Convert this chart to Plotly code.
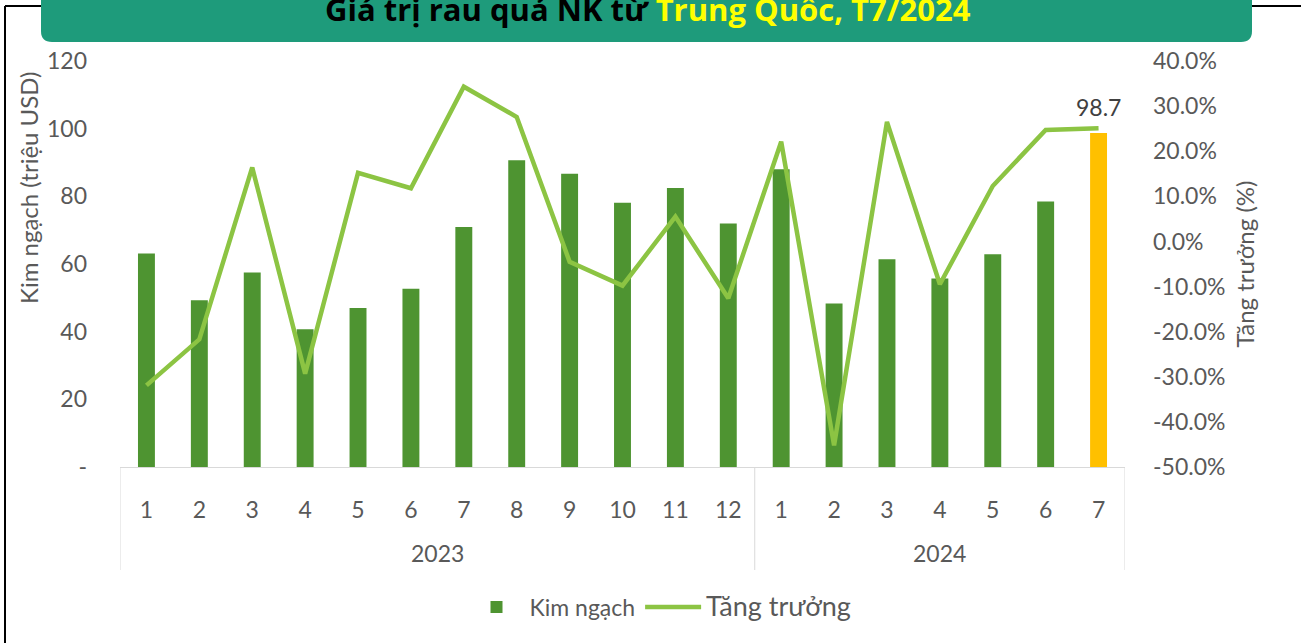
import plotly.graph_objects as go

years = ["2023"] * 12 + ["2024"] * 7
months = [str(m) for m in range(1, 13)] + [str(m) for m in range(1, 8)]
kim_ngach = [63.1, 49.3, 57.5, 40.7, 47.0, 52.7, 70.9, 90.7, 86.7, 78.1, 82.5, 72.0,
             88.0, 48.3, 61.4, 55.7, 62.9, 78.5, 98.7]
tang_truong = [-31.9, -21.7, 16.4, -29.3, 15.2, 11.8, 34.3, 27.6, -4.5, -9.8, 5.5, -12.6,
               22.1, -45.2, 26.5, -9.5, 12.3, 24.7, 25.1]
left_ticks = [0, 20, 40, 60, 80, 100, 120]
left_tick_text = ["-", "20", "40", "60", "80", "100", "120"]
right_ticks = list(range(-50, 41, 10))
right_tick_text = [f"{v:.1f}%" for v in right_ticks]

BAR = "#4E9431"
HIGHLIGHT = "#FFC000"
LINE = "#8CC443"
GRAY = "#595959"
FONT = "Lato"
FS = 23

W, H = 1301, 643
L, R, T, B = 120, 1125, 61, 467


def xp(px):
    return (px - L) / (R - L)


def yp(py):
    return (B - py) / (B - T)


idx = list(range(len(months)))
bar_colors = [BAR] * (len(kim_ngach) - 1) + [HIGHLIGHT]

fig = go.Figure()
fig.add_trace(go.Bar(
    x=idx, y=kim_ngach, name="Kim ngạch",
    marker=dict(color=bar_colors, line=dict(width=0)),
    yaxis="y",
))
fig.add_trace(go.Scatter(
    x=idx, y=tang_truong, name='<span style="font-size:27px">Tăng trưởng</span>',
    mode="lines", line=dict(color=LINE, width=4.5), yaxis="y2",
))

fig.update_layout(
    width=W, height=H,
    margin=dict(l=L, r=W - R, t=T, b=H - B),
    paper_bgcolor="white", plot_bgcolor="white",
    font=dict(family=FONT, color=GRAY, size=FS),
    bargap=0.68,
    showlegend=True,
    legend=dict(orientation="h", x=xp(660), y=yp(607), xanchor="center", yanchor="middle",
                font=dict(size=FS, color=GRAY), itemwidth=56),
    xaxis=dict(range=[-0.5, len(idx) - 0.5], tickvals=idx, ticktext=months,
               showline=True, linecolor="#D9D9D9", linewidth=1, ticks="",
               ticklabelstandoff=22, tickfont=dict(size=FS, color=GRAY),
               showgrid=False, zeroline=False),
    yaxis=dict(range=[0, 120], tickvals=left_ticks, ticktext=left_tick_text,
               showgrid=False, zeroline=False, showline=False, ticks="",
               ticklabelstandoff=32, tickfont=dict(size=FS, color=GRAY)),
    yaxis2=dict(range=[-50, 40], tickvals=right_ticks, ticktext=right_tick_text,
                overlaying="y", side="right", showgrid=False, zeroline=False,
                showline=False, ticks="", ticklabelstandoff=27,
                tickfont=dict(size=FS, color=GRAY),
                title=dict(text="Tăng trưởng (%)", font=dict(size=24, color=GRAY), standoff=12)),
)

# year group labels and dividers
groups = []
for i, y in enumerate(years):
    if not groups or groups[-1][0] != y:
        groups.append([y, i, i])
    else:
        groups[-1][2] = i
div_line = dict(color="#D9D9D9", width=1)
for g, start, end in groups:
    fig.add_annotation(text=g, x=(start + end) / 2, xref="x", y=yp(553), yref="paper",
                       showarrow=False, font=dict(size=FS, color=GRAY), yanchor="middle")
    fig.add_shape(type="line", xref="x", yref="paper", x0=start - 0.5, x1=start - 0.5,
                  y0=0, y1=yp(570), line=div_line)
fig.add_shape(type="line", xref="x", yref="paper", x0=len(idx) - 0.5, x1=len(idx) - 0.5,
              y0=0, y1=yp(570), line=div_line)

# left axis title
fig.add_annotation(text="Kim ngạch (triệu USD)", xref="paper", yref="paper",
                   x=xp(28), y=yp(188), textangle=-90, showarrow=False,
                   font=dict(size=24, color=GRAY), xanchor="center", yanchor="middle")

# data label on last bar
fig.add_annotation(text="98.7", x=idx[-1], y=kim_ngach[-1], xref="x", yref="y",
                   showarrow=False, yshift=26, font=dict(size=23, color="#404040"))

# title box
x0, x1, y0, y1, r = xp(41), xp(1252), yp(-20), yp(42), 11
rx, ry = r / (R - L), r / (B - T)
path = (f"M {x0},{y0} L {x0},{y1 + ry} Q {x0},{y1} {x0 + rx},{y1} "
        f"L {x1 - rx},{y1} Q {x1},{y1} {x1},{y1 + ry} L {x1},{y0} Z")
fig.add_shape(type="path", path=path, xref="paper", yref="paper",
              fillcolor="#1E9B7B", line=dict(width=0), layer="below")

# outer frame lines
frame = dict(color="black", width=2)
fig.add_shape(type="line", xref="paper", yref="paper", x0=xp(5), x1=xp(5), y0=yp(6), y1=yp(660), line=frame)
fig.add_shape(type="line", xref="paper", yref="paper", x0=xp(5), x1=xp(41), y0=yp(6), y1=yp(6), line=frame)
fig.add_shape(type="line", xref="paper", yref="paper", x0=xp(1252), x1=xp(1320), y0=yp(6), y1=yp(6), line=frame)

fig.add_annotation(
    text='<b>Giá trị rau quả NK từ <span style="color:#FFFF00">Trung Quốc, T7/2024</span></b>',
    xref="paper", yref="paper", x=xp(648), y=yp(9), showarrow=False,
    font=dict(size=31, color="black", family="Open Sans"), xanchor="center", yanchor="middle")

fig.write_html("out.html", config={"displayModeBar": False},
               post_script="document.body.style.margin='0';")
